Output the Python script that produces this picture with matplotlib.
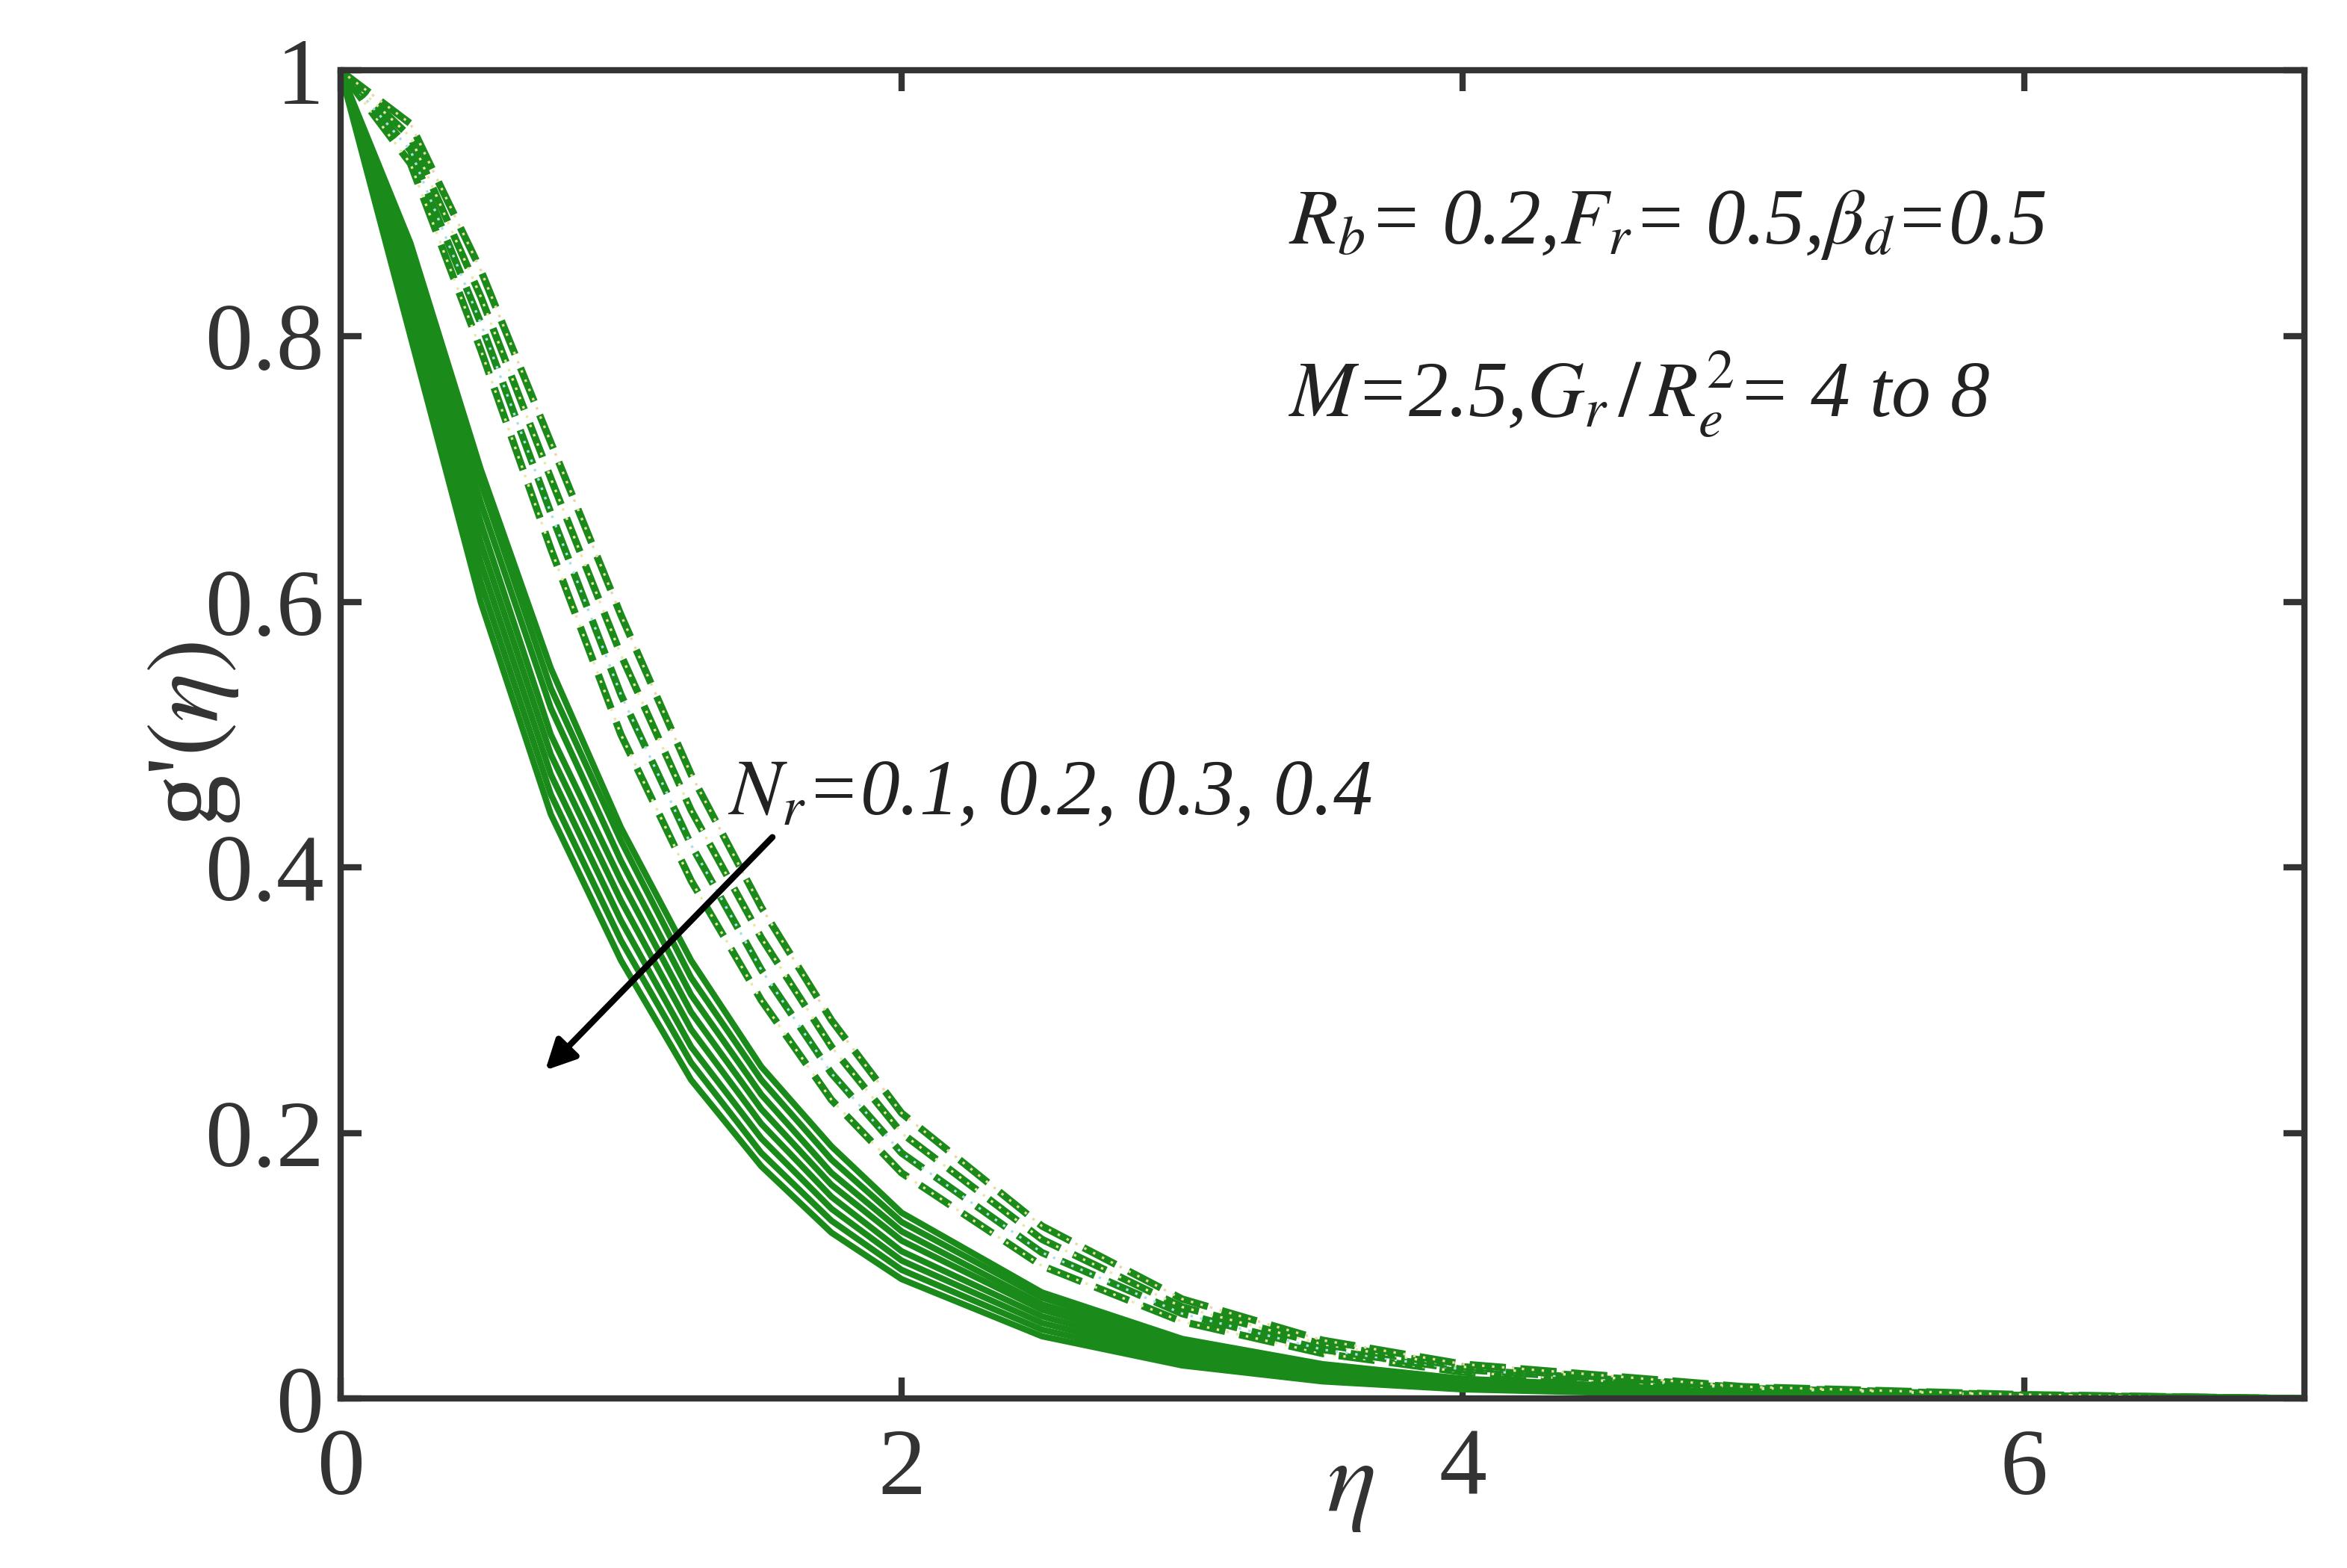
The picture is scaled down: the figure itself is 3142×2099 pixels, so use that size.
import matplotlib
matplotlib.use("Agg")
import matplotlib.pyplot as plt

eta = [0, 0.25, 0.5, 0.75, 1, 1.25, 1.5, 1.75, 2, 2.5, 3, 3.5, 4, 5, 6, 7]
solid = [
    [1, 0.80, 0.60, 0.44, 0.33, 0.24, 0.175, 0.125, 0.090, 0.047, 0.025, 0.013, 0.007, 0.002, 0.0006, 0],
    [1, 0.81, 0.615, 0.455, 0.345, 0.253, 0.185, 0.134, 0.097, 0.052, 0.028, 0.015, 0.008, 0.0025, 0.0007, 0],
    [1, 0.82, 0.63, 0.47, 0.36, 0.265, 0.196, 0.143, 0.104, 0.057, 0.031, 0.017, 0.009, 0.003, 0.0008, 0],
    [1, 0.83, 0.645, 0.485, 0.375, 0.278, 0.207, 0.152, 0.111, 0.062, 0.034, 0.019, 0.010, 0.0033, 0.0009, 0],
    [1, 0.84, 0.66, 0.50, 0.39, 0.291, 0.218, 0.161, 0.119, 0.067, 0.037, 0.021, 0.011, 0.0037, 0.0011, 0],
    [1, 0.85, 0.675, 0.52, 0.405, 0.304, 0.229, 0.170, 0.126, 0.071, 0.040, 0.023, 0.013, 0.0042, 0.0012, 0],
    [1, 0.86, 0.69, 0.535, 0.42, 0.317, 0.240, 0.180, 0.133, 0.076, 0.043, 0.025, 0.014, 0.0046, 0.0014, 0],
    [1, 0.87, 0.70, 0.55, 0.43, 0.330, 0.250, 0.190, 0.140, 0.080, 0.045, 0.026, 0.015, 0.005, 0.0015, 0],
]
dashed = [
    [1, 0.93, 0.79, 0.64, 0.50, 0.39, 0.30, 0.225, 0.170, 0.100, 0.058, 0.034, 0.020, 0.007, 0.002, 0],
    [1, 0.94, 0.81, 0.667, 0.53, 0.417, 0.323, 0.245, 0.185, 0.110, 0.064, 0.037, 0.022, 0.0077, 0.0023, 0],
    [1, 0.95, 0.83, 0.693, 0.56, 0.443, 0.347, 0.265, 0.200, 0.120, 0.069, 0.041, 0.024, 0.0083, 0.0027, 0],
    [1, 0.96, 0.85, 0.72, 0.59, 0.47, 0.37, 0.285, 0.215, 0.130, 0.075, 0.044, 0.026, 0.009, 0.003, 0],
]
dot_colors = ["#e8e8a0", "#a8e0e8", "#e8e8a0", "#e8d8a0"]

plt.rcParams['font.family'] = ['Liberation Serif', 'DejaVu Serif']
plt.rcParams['mathtext.fontset'] = 'stix'

fig = plt.figure(figsize=(15.71, 10.495), dpi=200)
ax = fig.add_axes([0.145, 0.108, 0.837, 0.847])
green = "#1a8a1a"
for s in solid:
    ax.plot(eta, s, color=green, lw=3)
for d, c in zip(dashed, dot_colors):
    ax.plot(eta, d, color=green, lw=3.5, ls=(0, (5, 2)))
    ax.plot(eta, d, color=c, lw=1.2, ls=(0, (1, 3)))

ax.set_xlim(0, 7)
ax.set_ylim(0, 1)
ax.set_xticks([0, 2, 4, 6])
ax.set_yticks([0, 0.2, 0.4, 0.6, 0.8, 1])
ax.set_yticklabels(["0", "0.2", "0.4", "0.6", "0.8", "1"])
ax.tick_params(direction='in', top=True, right=True, labelsize=46, width=3, length=10, colors='#333333')
for sp in ax.spines.values():
    sp.set_linewidth(3)
    sp.set_color('#333333')
ax.tick_params(axis='x', pad=14)
ax.tick_params(axis='y', pad=8)

ax.text(3.6, -0.03, r"$\eta$", fontsize=50, ha='center', va='top', color='#333333')
ax.set_ylabel(r"g'$(\eta)$", fontsize=50, labelpad=-18, color='#333333')

ax.text(3.38, 0.87, r"$R_b$= 0.2,$F_r$= 0.5,$\beta_d$=0.5", fontsize=38, style='italic', color='#222222')
ax.text(3.38, 0.74, r"$M$=2.5,$G_r\,/\,R_e^2$= 4 to 8", fontsize=38, style='italic', color='#222222')
ax.text(1.38, 0.44, r"$N_r$=0.1, 0.2, 0.3, 0.4", fontsize=38, style='italic', color='#222222')
ax.annotate("", xy=(0.72, 0.245), xytext=(1.55, 0.425),
            arrowprops=dict(arrowstyle='-|>', color='black', lw=3, mutation_scale=30))

fig.savefig("out.png", dpi=200)
